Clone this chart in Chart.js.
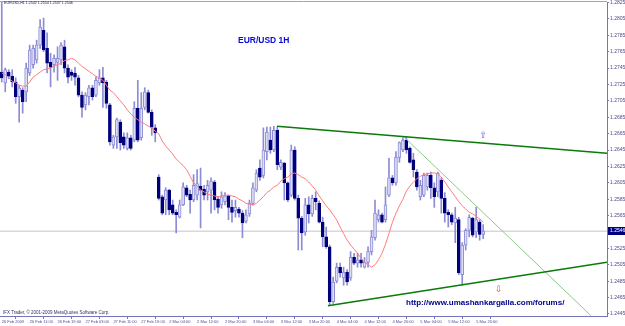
<!DOCTYPE html>
<html><head><meta charset="utf-8">
<script src="https://cdn.jsdelivr.net/npm/chart.js@4.4.1/dist/chart.umd.min.js"></script>
<style>
html,body{margin:0;padding:0;background:#fff;}
#wrap{position:relative;width:625px;height:326px;overflow:hidden;background:#fff;}
#c{position:absolute;left:0;top:0;}
.t{position:absolute;white-space:nowrap;font-family:"Liberation Sans",Arial,sans-serif;line-height:1;}
</style></head><body>
<div id="wrap">
<canvas id="c" width="625" height="326"></canvas>
<div class="t" id="hdr" style="left:4px;top:2px;font-size:3.6px;color:#10106a;"></div>
<div class="t" style="left:238px;top:36px;font-size:8.5px;font-weight:bold;color:#0a0ad8;">EUR/USD 1H</div>
<div class="t" style="left:406px;top:299px;font-size:8px;font-weight:bold;color:#00008b;">http://www.umashankargalla.com/forums/</div>
<div class="t" style="left:3px;top:311px;font-size:4.5px;color:#303060;">IFX Trader, © 2001-2009 MetaQuotes Software Corp.</div>
</div>
<script>
const symbolName = "EURUSD,H1";
const xTickLabels = ["26 Feb 2009","26 Feb 11:00","26 Feb 19:00","27 Feb 03:00","27 Feb 11:00","27 Feb 19:00","2 Mar 04:00","2 Mar 12:00","2 Mar 20:00","3 Mar 04:00","3 Mar 12:00","3 Mar 20:00","4 Mar 04:00","4 Mar 12:00","4 Mar 20:00","5 Mar 04:00","5 Mar 12:00","5 Mar 20:00"];
const barsPerTick = 8;
const emptyFutureBars = 35;
const yTicks = [1.2445,1.2465,1.2485,1.2505,1.2525,1.2545,1.2565,1.2585,1.2605,1.2625,1.2645,1.2665,1.2685,1.2705,1.2725,1.2745,1.2765,1.2785,1.2805,1.2825];
const yMin = 1.24425, yMax = 1.28256;

const opens = [1.2740,1.2727,1.2740,1.2735,1.2728,1.2710,1.2718,1.2716,1.2739,1.2749,1.2755,1.2773,1.2791,1.2769,1.2752,1.2749,1.2752,1.2755,1.2771,1.2745,
1.2740,1.2739,1.2733,1.2712,1.2700,1.2710,1.2721,1.2712,1.2727,1.2733,1.2728,1.2700,1.2651,1.2661,1.2679,1.2661,1.2647,1.2660,1.2657,1.2696,
1.2660,1.2697,1.2715,1.2691,1.2672,1.2612,1.2588,1.2584,1.2596,1.2578,1.2569,1.2563,1.2578,1.2599,1.2591,1.2584,1.2590,1.2601,1.2597,1.2594,
1.2596,1.2606,1.2585,1.2578,1.2582,1.2589,1.2575,1.2571,1.2573,1.2568,1.2558,1.2567,1.2580,1.2596,1.2623,1.2614,1.2643,1.2657,1.2645,1.2669,
1.2624,1.2629,1.2605,1.2590,1.2645,1.2586,1.2562,1.2545,1.2578,1.2567,1.2586,1.2580,1.2557,1.2539,1.2527,1.2460,1.2485,1.2502,1.2489,1.2496,
1.2489,1.2514,1.2507,1.2511,1.2502,1.2508,1.2521,1.2538,1.2560,1.2566,1.2560,1.2590,1.2611,1.2605,1.2636,1.2645,1.2657,1.2647,1.2633,1.2618,
1.2588,1.2590,1.2600,1.2614,1.2599,1.2594,1.2608,1.2586,1.2569,1.2566,1.2556,1.2560,1.2493,1.2529,1.2547,1.2562,1.2545,1.2557,1.2542];
const highs = [1.2830,1.2745,1.2743,1.2743,1.2733,1.2724,1.2721,1.2751,1.2773,1.2773,1.2779,1.2804,1.2806,1.2788,1.2763,1.2761,1.2771,1.2776,1.2779,1.2749,
1.2743,1.2746,1.2736,1.2716,1.2715,1.2724,1.2724,1.2734,1.2743,1.2746,1.2730,1.2702,1.2663,1.2684,1.2682,1.2666,1.2666,1.2663,1.2704,1.2730,
1.2715,1.2721,1.2718,1.2694,1.2676,1.2615,1.2590,1.2599,1.2597,1.2584,1.2572,1.2584,1.2605,1.2602,1.2596,1.2615,1.2621,1.2623,1.2602,1.2608,
1.2611,1.2608,1.2588,1.2594,1.2593,1.2590,1.2584,1.2584,1.2575,1.2571,1.2572,1.2584,1.2605,1.2621,1.2633,1.2672,1.2673,1.2673,1.2674,1.2673,
1.2633,1.2630,1.2606,1.2651,1.2649,1.2590,1.2564,1.2586,1.2588,1.2590,1.2594,1.2583,1.2563,1.2551,1.2529,1.2490,1.2507,1.2507,1.2502,1.2499,
1.2521,1.2519,1.2519,1.2519,1.2514,1.2527,1.2547,1.2584,1.2572,1.2568,1.2600,1.2635,1.2614,1.2643,1.2655,1.2660,1.2661,1.2649,1.2641,1.2621,
1.2608,1.2617,1.2617,1.2618,1.2605,1.2618,1.2611,1.2593,1.2572,1.2568,1.2575,1.2563,1.2532,1.2549,1.2566,1.2563,1.2575,1.2560,1.2554];
const lows = [1.2728,1.2716,1.2732,1.2722,1.2702,1.2679,1.2690,1.2704,1.2736,1.2745,1.2751,1.2769,1.2765,1.2739,1.2722,1.2740,1.2730,1.2749,1.2739,1.2727,
1.2730,1.2724,1.2710,1.2685,1.2694,1.2700,1.2706,1.2710,1.2724,1.2697,1.2696,1.2651,1.2647,1.2647,1.2645,1.2647,1.2645,1.2645,1.2655,1.2655,
1.2657,1.2694,1.2690,1.2663,1.2655,1.2584,1.2566,1.2566,1.2566,1.2566,1.2544,1.2562,1.2577,1.2588,1.2568,1.2582,1.2584,1.2550,1.2584,1.2584,
1.2568,1.2572,1.2568,1.2574,1.2578,1.2560,1.2557,1.2563,1.2563,1.2538,1.2556,1.2564,1.2578,1.2594,1.2608,1.2611,1.2633,1.2641,1.2643,1.2621,
1.2621,1.2584,1.2582,1.2588,1.2584,1.2523,1.2523,1.2541,1.2556,1.2564,1.2572,1.2556,1.2527,1.2525,1.2456,1.2458,1.2483,1.2490,1.2480,1.2480,
1.2486,1.2505,1.2502,1.2502,1.2501,1.2502,1.2517,1.2535,1.2557,1.2556,1.2557,1.2588,1.2602,1.2602,1.2630,1.2643,1.2641,1.2629,1.2612,1.2596,
1.2584,1.2588,1.2596,1.2586,1.2575,1.2588,1.2568,1.2557,1.2551,1.2554,1.2532,1.2493,1.2480,1.2523,1.2539,1.2539,1.2538,1.2535,1.2537];
const closes = [1.2733,1.2743,1.2735,1.2728,1.2710,1.2721,1.2704,1.2745,1.2767,1.2769,1.2773,1.2795,1.2767,1.2751,1.2746,1.2757,1.2757,1.2773,1.2745,1.2734,
1.2736,1.2734,1.2712,1.2697,1.2712,1.2721,1.2710,1.2730,1.2733,1.2727,1.2702,1.2655,1.2661,1.2682,1.2654,1.2651,1.2660,1.2647,1.2696,1.2657,
1.2696,1.2716,1.2691,1.2673,1.2666,1.2586,1.2568,1.2596,1.2572,1.2568,1.2566,1.2578,1.2600,1.2590,1.2584,1.2602,1.2604,1.2596,1.2590,1.2602,
1.2607,1.2584,1.2575,1.2588,1.2589,1.2575,1.2569,1.2575,1.2568,1.2556,1.2566,1.2580,1.2599,1.2617,1.2612,1.2645,1.2667,1.2645,1.2669,1.2627,
1.2630,1.2605,1.2584,1.2645,1.2586,1.2562,1.2544,1.2578,1.2567,1.2586,1.2582,1.2557,1.2539,1.2527,1.2460,1.2484,1.2502,1.2495,1.2496,1.2484,
1.2514,1.2507,1.2511,1.2507,1.2508,1.2521,1.2539,1.2568,1.2566,1.2557,1.2578,1.2611,1.2605,1.2636,1.2654,1.2657,1.2645,1.2630,1.2621,1.2600,
1.2602,1.2614,1.2614,1.2599,1.2588,1.2617,1.2586,1.2568,1.2566,1.2557,1.2562,1.2495,1.2529,1.2547,1.2563,1.2541,1.2560,1.2542,1.2546];
const movingAverage = [1.2739,1.2737,1.2733,1.2729,1.2727,1.2724,1.2723,1.2723,1.2728,1.2734,1.2737,1.2740,1.2743,1.2744,1.2745,1.2747,1.2749,1.2751,1.2754,1.2755,
1.2757,1.2755,1.2751,1.2747,1.2744,1.2741,1.2738,1.2735,1.2733,1.2730,1.2724,1.2718,1.2715,1.2710,1.2705,1.2700,1.2694,1.2689,1.2685,1.2682,
1.2679,1.2677,1.2674,1.2672,1.2668,1.2665,1.2656,1.2650,1.2645,1.2640,1.2634,1.2630,1.2626,1.2621,1.2613,1.2605,1.2601,1.2596,1.2594,1.2591,
1.2590,1.2589,1.2588,1.2589,1.2590,1.2590,1.2589,1.2588,1.2585,1.2583,1.2580,1.2579,1.2578,1.2580,1.2584,1.2588,1.2593,1.2596,1.2600,1.2602,
1.2607,1.2610,1.2612,1.2616,1.2617,1.2615,1.2612,1.2610,1.2606,1.2601,1.2596,1.2589,1.2583,1.2577,1.2572,1.2566,1.2560,1.2551,1.2543,1.2535,
1.2529,1.2524,1.2519,1.2513,1.2508,1.2505,1.2502,1.2505,1.2511,1.2519,1.2530,1.2543,1.2557,1.2568,1.2577,1.2585,1.2595,1.2601,1.2606,1.2610,
1.2613,1.2615,1.2616,1.2617,1.2617,1.2616,1.2612,1.2606,1.2600,1.2594,1.2588,1.2582,1.2577,1.2573,1.2569,1.2567,1.2564,1.2561,1.2557];

// trend lines: [bar index, price]
const upperTrend = [[78.9,1.2674],[173.5,1.2641]];
const lowerTrend = [[93.5,1.2455],[173.5,1.2508]];
const steepTrend = [[115.3,1.2661],[169.0,1.24425]];
const arrowBars = [138, 142.5];
const arrowPrices = [1.2662, 1.2475];
const arrowGlyphs = ["\u21E7", "\u21E9"];

const n = opens.length;
const bid = closes[n-1];
document.getElementById('hdr').textContent = symbolName + "  " + [opens[n-1],highs[n-1],lows[n-1],closes[n-1]].map(v=>v.toFixed(4)).join(' ');

const totalBars = n + emptyFutureBars;
const labels = [];
for (let i = 0; i < totalBars; i++) {
  labels.push(i % barsPerTick === 0 && (i / barsPerTick) < xTickLabels.length ? xTickLabels[i / barsPerTick] : '');
}
const isBull = opens.map((o,i)=>closes[i] >= o);
const WICK = '#8c8cd6', BEAR = '#00007e', AXIS = '#7474b8';
const pts = arr => arr.map(p=>({x:p[0], y:p[1]}));

const deco = {
  id: 'deco',
  afterDatasetsDraw(chart) {
    const {ctx, scales:{y, xl}} = chart;
    ctx.save();
    ctx.font = '9px "DejaVu Sans"';
    ctx.textAlign = 'center'; ctx.textBaseline = 'middle';
    const cols = ['#5a5ae0', '#ff3b3b'];
    arrowBars.forEach((b,k)=>{
      ctx.fillStyle = cols[k];
      ctx.fillText(arrowGlyphs[k], xl.getPixelForValue(b), y.getPixelForValue(arrowPrices[k]));
    });
    ctx.restore();
  },
  afterDraw(chart) {
    const {ctx, chartArea:a, scales:{y}} = chart;
    ctx.save();
    ctx.strokeStyle = '#a0a0cc'; ctx.lineWidth = 1;
    ctx.beginPath(); ctx.moveTo(a.left, a.top - 0.5); ctx.lineTo(a.right, a.top - 0.5); ctx.stroke();
    const yy = y.getPixelForValue(bid);
    ctx.fillStyle = '#000080';
    ctx.fillRect(a.right + 1, Math.round(yy) - 4, chart.width - a.right - 1, 8);
    ctx.fillStyle = '#ffffff';
    ctx.font = '5px "Liberation Sans"';
    ctx.textBaseline = 'middle'; ctx.textAlign = 'left';
    ctx.fillText(bid.toFixed(4), a.right + 3, Math.round(yy));
    ctx.restore();
  }
};

new Chart(document.getElementById('c'), {
  type: 'bar',
  data: {
    labels: labels,
    datasets: [
      { type:'line', xAxisID:'xl', data: pts(upperTrend), borderColor:'#0a7a0a', borderWidth:1.6, pointRadius:0, order:0 },
      { type:'line', xAxisID:'xl', data: pts(lowerTrend), borderColor:'#0a7a0a', borderWidth:1.6, pointRadius:0, order:0 },
      { type:'line', xAxisID:'xl', data: pts(steepTrend), borderColor:'#8cc88c', borderWidth:1, pointRadius:0, order:0 },
      { type:'line', xAxisID:'x', data: movingAverage, borderColor:'#ff7c7c', borderWidth:1, pointRadius:0, tension:0, order:1 },
      { type:'bar', xAxisID:'x', data: opens.map((o,i)=>[Math.min(o,closes[i]), Math.max(o,closes[i])]),
        backgroundColor: isBull.map(b=>b ? '#dedef6' : BEAR), borderColor: isBull.map(b=>b ? WICK : BEAR),
        borderWidth: 1, borderSkipped: false, barThickness: 3, grouped: false, minBarLength: 1, order: 2 },
      { type:'bar', xAxisID:'x', data: lows.map((l,i)=>[l, highs[i]]), backgroundColor: WICK,
        barThickness: 1, grouped: false, order: 3 },
      { type:'line', xAxisID:'xl', data: [{x:-0.5, y:bid},{x:totalBars-0.5, y:bid}], borderColor:'#c4c4c4', borderWidth:1, pointRadius:0, order:5 }
    ]
  },
  options: {
    responsive: false, maintainAspectRatio: false, animation: false, devicePixelRatio: 1,
    layout: { padding: { top: 2, left: 0, right: 0, bottom: 0 } },
    plugins: { legend: { display:false }, tooltip: { enabled:false } },
    scales: {
      x: {
        type:'category', offset:true,
        grid: { display:true, drawOnChartArea:false, drawTicks:true, tickLength:3, color:AXIS },
        border: { display:true, color:AXIS },
        ticks: { autoSkip:false, maxRotation:0, minRotation:0, align:'start', padding:0,
          font:{ size:4, family:'"Liberation Sans"' }, color:'#4c4c90',
          callback: (v,i) => labels[i] || null },
        afterFit: s => { s.height = 10; s.paddingLeft = 0; s.paddingRight = 0; }
      },
      xl: { type:'linear', display:false, offset:false, grid:{offset:false}, min:-0.5, max: totalBars - 0.5 },
      y: {
        position:'right', min:yMin, max:yMax,
        afterBuildTicks: s => { s.ticks = yTicks.map(v=>({value:v})); },
        grid: { display:true, drawOnChartArea:false, drawTicks:true, tickLength:2, color:AXIS },
        border: { display:true, color:AXIS },
        ticks: { padding:1, font:{ size:5, family:'"Liberation Sans"' }, color:'#4c4c90', callback: v => v.toFixed(4) },
        afterFit: s => { s.width = 18; s.paddingTop = 0; s.paddingBottom = 0; }
      }
    }
  },
  plugins: [deco]
});
</script>
</body></html>
